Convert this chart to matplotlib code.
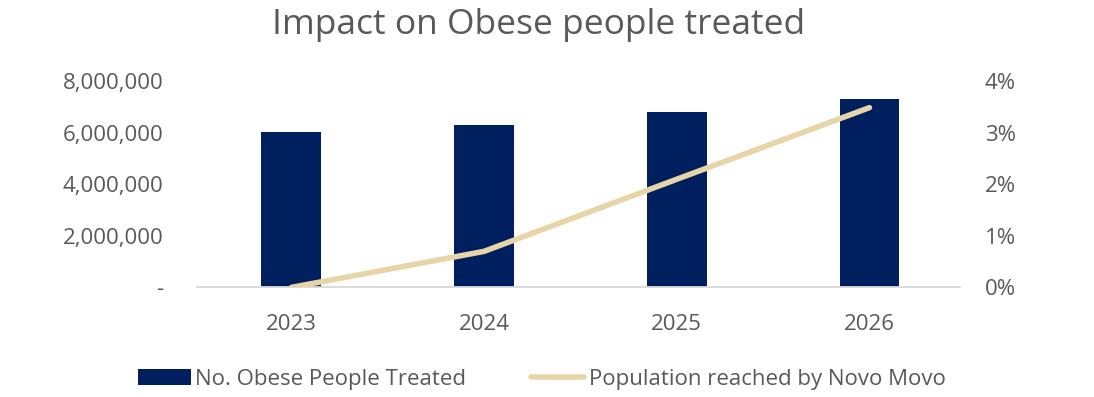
import matplotlib
matplotlib.use("Agg")
import matplotlib.pyplot as plt
from matplotlib.ticker import FuncFormatter
from matplotlib.lines import Line2D
from matplotlib.patches import Patch

years = ["2023", "2024", "2025", "2026"]
people_treated = [6050000, 6300000, 6800000, 7310000]
population_reached_pct = [0.0, 0.70, 2.10, 3.49]
left_ticks = [0, 2000000, 4000000, 6000000, 8000000]
right_ticks = [0, 1, 2, 3, 4]

navy = "#001F5F"
beige = "#E8D5A7"
text_gray = "#595959"

plt.rcParams["font.family"] = ["Open Sans", "DejaVu Sans"]

fig = plt.figure(figsize=(10.94, 3.97), dpi=100)
ax = fig.add_axes([0.180, 0.276, 0.6975, 0.519])
ax2 = ax.twinx()

x = list(range(len(years)))
ax.bar(x, people_treated, width=0.31, color=navy, zorder=2)
ax2.plot(x, population_reached_pct, color=beige, linewidth=4,
         solid_capstyle="round", zorder=3)

ax.set_xlim(-0.49, 3.47)
ax.set_ylim(0, 8000000)
ax2.set_ylim(0, 4)
ax.set_yticks(left_ticks)
ax2.set_yticks(right_ticks)
ax.yaxis.set_major_formatter(FuncFormatter(lambda v, p: "-" if v == 0 else f"{int(v):,}"))
ax2.yaxis.set_major_formatter(FuncFormatter(lambda v, p: f"{int(v)}%"))
ax.set_xticks(x)
ax.set_xticklabels(years)

for a in (ax, ax2):
    for s in a.spines.values():
        s.set_visible(False)
    a.tick_params(length=0, labelsize=16, labelcolor=text_gray)
ax.spines["bottom"].set_visible(True)
ax.spines["bottom"].set_color("#D9D9D9")
ax.spines["bottom"].set_linewidth(1.3)
ax.tick_params(axis="y", pad=24)
ax.tick_params(axis="x", pad=19)
ax2.tick_params(axis="y", pad=18)

fig.text(0.4927, 0.937, "Impact on Obese people treated", ha="center", va="center",
         fontsize=25.5, color=text_gray)

handles = [Patch(facecolor=navy, edgecolor="none"),
           Line2D([0], [0], color=beige, linewidth=4, solid_capstyle="round")]
labels = ["No. Obese People Treated", "Population reached by Novo Movo"]
fig.legend(handles, labels, loc="center", bbox_to_anchor=(0.495, 0.045), ncol=2,
           frameon=False, fontsize=16, labelcolor=text_gray, handlelength=2.4,
           handleheight=0.75, handletextpad=0.2, columnspacing=2.9)

fig.savefig("out.png", dpi=100, facecolor="white")
